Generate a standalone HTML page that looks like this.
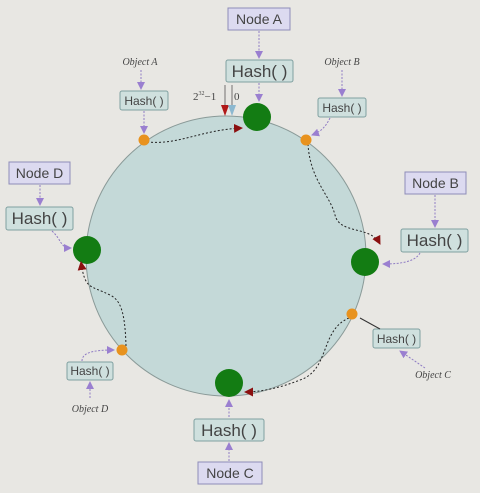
<!DOCTYPE html>
<html><head><meta charset="utf-8"><style>
html,body{margin:0;padding:0;background:#e8e7e3;}
svg{display:block;font-family:"Liberation Sans",sans-serif;}
.nb{fill:#dcdaf0;stroke:#8e8cb8;stroke-width:1}
.hb{fill:#cfe0de;stroke:#7fa0a0;stroke-width:1}
.t{fill:#444;}
.obj{font-family:"Liberation Serif",serif;font-style:italic;font-size:10px;fill:#444}
.pa{stroke:#8f7cc4;stroke-width:1;stroke-dasharray:2,1.5;fill:none}
.da{stroke:#222;stroke-width:1;stroke-dasharray:2,2;fill:none}
</style></head><body>
<svg width="480" height="493" viewBox="0 0 480 493">
<defs>
<marker id="pm" markerWidth="8" markerHeight="8" refX="7" refY="4" orient="auto" markerUnits="userSpaceOnUse"><path d="M0,0 L8,4 L0,8 z" fill="#9a7fd0"/></marker>
<marker id="rm" markerWidth="9" markerHeight="9" refX="8" refY="4.5" orient="auto" markerUnits="userSpaceOnUse"><path d="M0,0 L9,4.5 L0,9 z" fill="#8b1010"/></marker>
</defs>
<circle cx="226" cy="256" r="140" fill="#c4d9d8" stroke="#8a9a98" stroke-width="1"/>

<!-- Node A -->
<g>
<rect class="nb" x="228" y="8" width="62" height="22"/>
<text class="t" x="259" y="24" font-size="14" text-anchor="middle">Node A</text>
<line class="pa" x1="259" y1="31" x2="259" y2="58" marker-end="url(#pm)"/>
<rect class="hb" x="226" y="60" width="67" height="22" rx="2"/>
<text class="t" x="259.5" y="77" font-size="17" text-anchor="middle">Hash( )</text>
<line class="pa" x1="259" y1="83" x2="259" y2="101" marker-end="url(#pm)"/>
</g>
<!-- 2^32-1 / 0 marker -->
<text x="193" y="100" font-family="Liberation Serif,serif" font-size="11" fill="#444">2<tspan font-size="6" dy="-5">32</tspan><tspan dy="5">−1</tspan></text>
<text x="234" y="100" font-family="Liberation Serif,serif" font-size="11" fill="#444">0</text>
<line x1="225" y1="85" x2="225" y2="110" stroke="#555" stroke-width="0.8"/>
<path d="M221,105 L229,105 L225,116 z" fill="#b01818"/>
<line x1="232" y1="85" x2="232" y2="110" stroke="#555" stroke-width="0.8"/>
<path d="M228,105 L236,105 L232,116 z" fill="#8cb8d0"/>

<!-- Nodes -->
<circle cx="257" cy="117" r="14" fill="#137c13"/>
<circle cx="365" cy="262" r="14" fill="#137c13"/>
<circle cx="229" cy="383" r="14" fill="#137c13"/>
<circle cx="87" cy="250" r="14" fill="#137c13"/>

<!-- Object A -->
<text class="obj" x="140" y="65" text-anchor="middle">Object A</text>
<line class="pa" x1="141" y1="70" x2="141" y2="89" marker-end="url(#pm)"/>
<rect class="hb" x="120" y="91" width="48" height="19" rx="2"/>
<text class="t" x="144" y="105" font-size="12" text-anchor="middle">Hash( )</text>
<line class="pa" x1="144" y1="111" x2="144" y2="133" marker-end="url(#pm)"/>
<path class="da" d="M147,142 C180,145 200,130 242,128" marker-end="url(#rm)"/>
<circle cx="144" cy="140" r="5.5" fill="#e8921e"/>

<!-- Object B -->
<text class="obj" x="342" y="65" text-anchor="middle">Object B</text>
<line class="pa" x1="342" y1="70" x2="342" y2="96" marker-end="url(#pm)"/>
<rect class="hb" x="318" y="98" width="48" height="19" rx="2"/>
<text class="t" x="342" y="112" font-size="12" text-anchor="middle">Hash( )</text>
<path class="pa" d="M330,118 C325,128 320,132 312,135" marker-end="url(#pm)"/>
<path class="da" d="M308,144 C310,180 330,195 335,215 C340,235 370,225 380,244" marker-end="url(#rm)"/>
<circle cx="306" cy="140" r="5.5" fill="#e8921e"/>

<!-- Node B -->
<rect class="nb" x="405" y="172" width="61" height="22"/>
<text class="t" x="435.5" y="188" font-size="14" text-anchor="middle">Node B</text>
<line class="pa" x1="435" y1="195" x2="435" y2="227" marker-end="url(#pm)"/>
<rect class="hb" x="401" y="229" width="67" height="23" rx="2"/>
<text class="t" x="434.5" y="246" font-size="17" text-anchor="middle">Hash( )</text>
<path class="pa" d="M420,253 C415,262 400,264 383,264" marker-end="url(#pm)"/>

<!-- Object C -->
<rect class="hb" x="373" y="329" width="47" height="19" rx="2"/>
<text class="t" x="396.5" y="343" font-size="12" text-anchor="middle">Hash( )</text>
<text class="obj" x="433" y="378" text-anchor="middle">Object C</text>
<line class="pa" x1="425" y1="368" x2="400" y2="351" marker-end="url(#pm)"/>
<line x1="380" y1="329" x2="360" y2="318" stroke="#333" stroke-width="1"/>
<path class="da" d="M349,318 C320,330 330,370 300,380 C280,388 260,392 245,392" marker-end="url(#rm)"/>
<circle cx="352" cy="314" r="5.5" fill="#e8921e"/>

<!-- Node C -->
<line class="pa" x1="229" y1="417" x2="229" y2="400" marker-end="url(#pm)"/>
<rect class="hb" x="194" y="419" width="70" height="22" rx="2"/>
<text class="t" x="229" y="436" font-size="17" text-anchor="middle">Hash( )</text>
<line class="pa" x1="229" y1="461" x2="229" y2="443" marker-end="url(#pm)"/>
<rect class="nb" x="198" y="462" width="64" height="22"/>
<text class="t" x="230" y="478" font-size="14" text-anchor="middle">Node C</text>

<!-- Node D -->
<rect class="nb" x="9" y="162" width="61" height="22"/>
<text class="t" x="39.5" y="178" font-size="14" text-anchor="middle">Node D</text>
<line class="pa" x1="40" y1="185" x2="40" y2="205" marker-end="url(#pm)"/>
<rect class="hb" x="6" y="207" width="67" height="23" rx="2"/>
<text class="t" x="39.5" y="224" font-size="17" text-anchor="middle">Hash( )</text>
<path class="pa" d="M52,231 C62,240 60,248 71,248" marker-end="url(#pm)"/>

<!-- Object D -->
<path class="da" d="M126,346 C125,310 120,300 110,295 C90,285 85,290 81,262" marker-end="url(#rm)"/>
<circle cx="122" cy="350" r="5.5" fill="#e8921e"/>
<path class="pa" d="M82,361 C82,352 95,350 114,350" marker-end="url(#pm)"/>
<rect class="hb" x="67" y="362" width="46" height="18" rx="2"/>
<text class="t" x="90" y="375" font-size="12" text-anchor="middle">Hash( )</text>
<line class="pa" x1="90" y1="398" x2="90" y2="382" marker-end="url(#pm)"/>
<text class="obj" x="90" y="412" text-anchor="middle">Object D</text>
</svg>
</body></html>
